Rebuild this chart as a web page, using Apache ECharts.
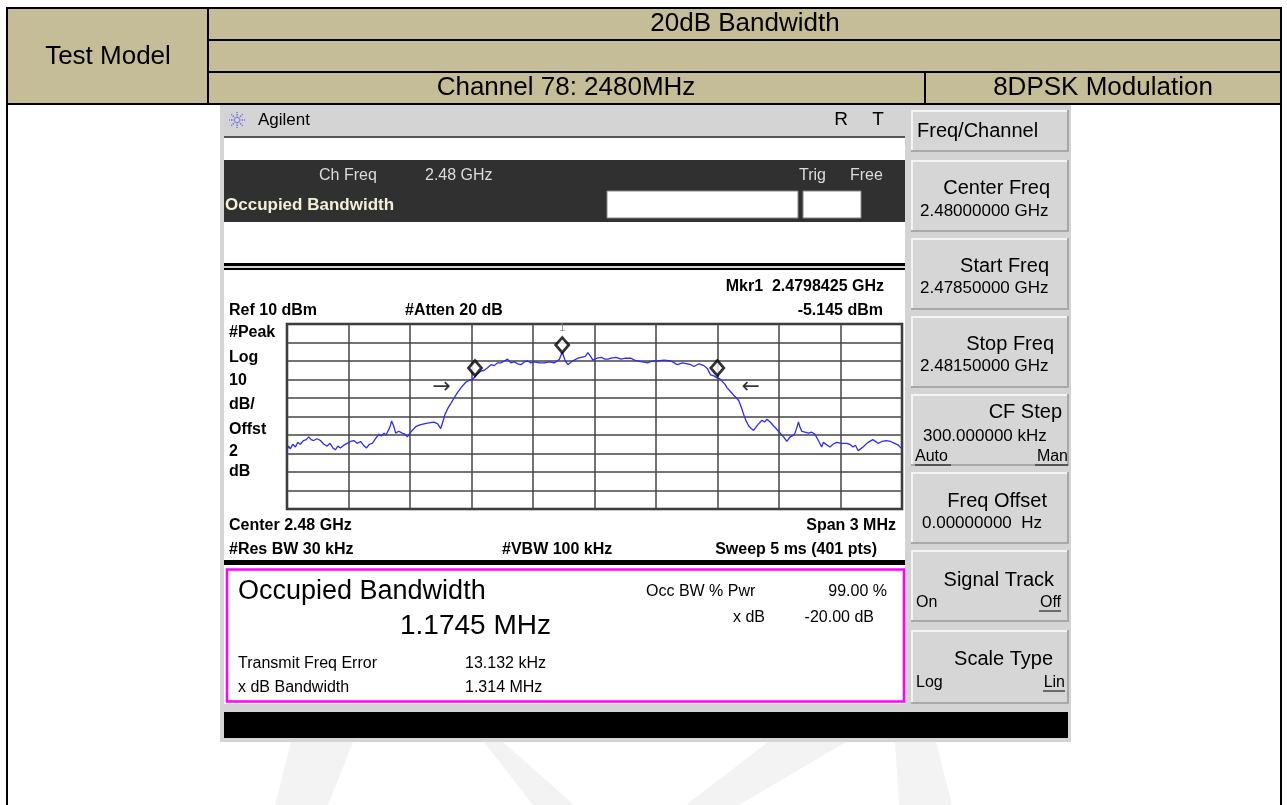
<!DOCTYPE html>
<html>
<head>
<meta charset="utf-8">
<script src="https://cdn.jsdelivr.net/npm/echarts@6/dist/echarts.min.js"></script>
<style>
html,body{margin:0;padding:0;background:#fff;}
#main{width:1287px;height:805px;}
</style>
</head>
<body>
<div id="main"></div>
<script>
// trace: offset from 2.48 GHz (kHz) and level (dBm)
var freqOffsets = [
  -1500,-1492,-1484,-1472,-1459,-1447,-1435,-1420,-1406,-1394,
  -1382,-1370,-1353,-1337,-1320,-1304,-1290,-1276,-1264,-1252,
  -1239,-1223,-1207,-1190,-1174,-1158,-1141,-1127,-1112,-1098,
  -1084,-1068,-1052,-1040,-1027,-1017,-1008,-999,-990,-980,
  -970,-955,-938,-925,-913,-897,-885,-872,-852,-832,
  -808,-783,-765,-750,-740,-730,-715,-701,-685,-668,
  -648,-628,-612,-595,-583,-571,-555,-538,-520,-505,
  -489,-473,-457,-440,-424,-408,-391,-375,-359,-343,
  -326,-310,-293,-270,-245,-220,-196,-183,-171,-157.5,
  -144,-130,-114,-98,-82,-65,-45,-32,-25,-16,
  -8,12,33,50,65,81,105,129,152,178,
  195,210,235,259,283,307,340,372,390,404,
  430,453,470,485,510,534,550,566,582,595,
  610,623,636,647,663,679,693,704,716,728,
  740,752,764,776,796,817,830,841,857,873,
  890,906,922,938,954,967,978,987,995,1003,
  1011,1027,1043,1059,1075,1092,1108,1116,1124,1136,
  1148,1164,1181,1205,1229,1245,1261,1273,1286,1298,
  1310,1334,1358,1383,1403,1423,1444,1464,1482,1500
];
var levels = [
  -58,-56,-57.5,-55,-56.5,-54,-55,-53,-52.5,-51,
  -52.5,-53,-52,-53,-55,-56,-54.5,-57,-58,-56,
  -57,-55.5,-54.5,-53.5,-53,-54.5,-53.5,-55.5,-57,-55,
  -54.5,-52,-49.5,-50.5,-49,-50,-49,-46,-42.5,-45,
  -49,-48,-49,-49.5,-51,-48.5,-47,-45.5,-44.5,-44,
  -43.5,-43,-44,-46.5,-43,-39,-35.5,-33,-30,-27,
  -24,-21.5,-20.5,-20,-18.5,-17,-15.5,-15,-13.5,-12,
  -12.5,-11,-11,-10,-9,-11,-10.5,-11.5,-12,-10.5,
  -10,-11,-10.5,-11,-11,-10.5,-11,-10,-9,-5.145,
  -9.5,-12,-10.5,-9.5,-8.5,-8,-7.5,-5.5,-5.5,-8,
  -9.5,-8.5,-8,-9,-9,-8.5,-8,-9,-8.5,-8.5,
  -9.5,-10,-10.5,-11,-10,-10,-9.5,-10,-11,-12,
  -11,-11.5,-12,-13,-11.5,-12.5,-14,-17.5,-18,-19,
  -19.5,-21,-22.5,-24.5,-26.5,-28.5,-30,-31.5,-35,-39,
  -42.5,-45,-46.5,-47.5,-44.5,-42,-43,-41.5,-43,-45,
  -47,-49,-51,-53.5,-51,-50.5,-49,-46,-43,-46,
  -48,-48.5,-49,-48.5,-49.5,-53,-56.5,-54,-53.5,-55.5,
  -56.5,-55,-54,-54.5,-54.5,-55,-56.5,-55.5,-58.5,-57.5,
  -56.5,-54,-52.5,-54.5,-53.5,-53,-53.5,-54.5,-55.5,-57.5
];
// markers (diamonds) and OBW arrows
var markerFreqs = [-157.5, -583, 599];
var markerLevels = [-5.145, -17.6, -17.6];
var markerNames = ['1', '', ''];
var arrowFreqs = [-745, 762];
var arrowLevels = [-24, -24];
var arrowTexts = ['\u2192', '\u2190'];
// axis: 3 MHz span, 10 dB/div from Ref 10 dBm
var xMin = -1500, xMax = 1500, xStep = 300;
var yMin = -90, yMax = 10, yStep = 10;

var FONT = "'Liberation Sans', Arial, sans-serif";

function R(x, y, w, h, fill, stroke, lw) {
  return {type:'rect', z:1, shape:{x:x, y:y, width:w, height:h},
    style:{fill:fill || 'none', stroke:stroke || null, lineWidth:lw || 0}};
}
function L(x1, y1, x2, y2, color, w, dash) {
  return {type:'line', z:2, shape:{x1:x1, y1:y1, x2:x2, y2:y2},
    style:{stroke:color, lineWidth:w, lineDash:dash || null}};
}
function T(x, y, s, size, opt) {
  opt = opt || {};
  var a = opt.align || 'left';
  return {type:'text', z:3, x:x, y:y, style:{
    text:s, font:(opt.bold ? 'bold ' : '') + size + 'px ' + (opt.family || FONT),
    fill:opt.color || '#000', textAlign:a, align:a,
    textVerticalAlign:'middle', verticalAlign:'middle'}};
}

var g = [];
// watermark
[[[291,742],[353,742],[328,805],[275,805]],
 [[484,742],[503,742],[574,805],[533,805]],
 [[768,742],[846,742],[739,805],[686,805]],
 [[895,742],[936,742],[952,805],[899,805]]].forEach(function (p) {
  g.push({type:'polygon', z:0, shape:{points:p}, style:{fill:'#f3f3f3'}});
});

// table header
g.push(R(7, 8, 1274, 96, '#c4bd98'));
g.push(L(7, 8, 1281, 8, '#000', 2));
g.push(L(7, 7, 7, 805, '#000', 2));
g.push(L(1281, 7, 1281, 805, '#000', 2));
g.push(L(208, 8, 208, 104, '#000', 2));
g.push(L(208, 40, 1281, 40, '#000', 2));
g.push(L(208, 72, 1281, 72, '#000', 2));
g.push(L(7, 104, 1281, 104, '#000', 2));
g.push(L(925, 72, 925, 104, '#000', 2));
g.push(T(745, 24, '20dB Bandwidth', 26, {align:'center'}));
g.push(T(108, 57, 'Test Model', 26, {align:'center'}));
g.push(T(566, 88, 'Channel 78: 2480MHz', 26, {align:'center'}));
g.push(T(1103, 88, '8DPSK Modulation', 26, {align:'center'}));

// instrument frame
g.push(R(220, 105, 851, 637, '#d4d4d4'));
// logo star
for (var k = 0; k < 8; k++) {
  var an = k * Math.PI / 4;
  g.push(L(237 + 2 * Math.cos(an), 120 + 2 * Math.sin(an), 237 + 8 * Math.cos(an), 120 + 8 * Math.sin(an), '#6f6fe0', 1.5, [1.5, 1]));
}
g.push(T(258, 120, 'Agilent', 17));
g.push(T(841, 120, 'R', 19, {align:'center'}));
g.push(T(878, 120, 'T', 19, {align:'center'}));

// display area
g.push(L(224, 137, 905, 137, '#555', 2));
g.push(R(224, 138, 681, 22, '#fff'));
g.push(R(224, 160, 681, 62, '#303030'));
g.push(R(224, 222, 681, 41, '#fff'));
g.push(R(224, 263, 681, 3, '#000'));
g.push(R(224, 268, 681, 2, '#000'));
g.push(R(224, 270, 681, 290, '#fff'));
g.push(R(224, 560, 681, 5, '#000'));
g.push(R(224, 565, 681, 139, '#fff'));
g.push(R(227, 569.5, 677, 132, null, '#ff00ff', 2.5));
g.push(R(224, 712, 844, 26, '#000'));

g.push(T(319, 176, 'Ch Freq', 16, {color:'#dcdcdc'}));
g.push(T(425, 176, '2.48 GHz', 16, {color:'#dcdcdc'}));
g.push(T(799, 176, 'Trig', 16, {color:'#dcdcdc'}));
g.push(T(850, 176, 'Free', 16, {color:'#dcdcdc'}));
g.push(T(225, 205, 'Occupied Bandwidth', 17, {bold:true, color:'#f3efd9'}));
g.push(R(607, 191, 191, 27, '#fff', '#888', 1));
g.push(R(803, 191, 58, 27, '#fff', '#888', 1));

// trace annotations
g.push(T(884, 287, 'Mkr1  2.4798425 GHz', 16, {bold:true, align:'right'}));
g.push(T(229, 311, 'Ref 10 dBm', 16, {bold:true}));
g.push(T(405, 311, '#Atten 20 dB', 16, {bold:true}));
g.push(T(883, 311, '-5.145 dBm', 16, {bold:true, align:'right'}));
[['#Peak',333],['Log',358],['10',381],['dB/',405],['Offst',430],['2',452],['dB',472]].forEach(function (r) {
  g.push(T(229, r[1], r[0], 16, {bold:true}));
});
g.push(T(229, 526, 'Center 2.48 GHz', 16, {bold:true}));
g.push(T(896, 526, 'Span 3 MHz', 16, {bold:true, align:'right'}));
g.push(T(229, 550, '#Res BW 30 kHz', 16, {bold:true}));
g.push(T(502, 550, '#VBW 100 kHz', 16, {bold:true}));
g.push(T(877, 550, 'Sweep 5 ms (401 pts)', 16, {bold:true, align:'right'}));

// results box
g.push(T(238, 592, 'Occupied Bandwidth', 27));
g.push(T(400, 626, '1.1745 MHz', 28));
g.push(T(646, 592, 'Occ BW % Pwr', 16));
g.push(T(887, 592, '99.00 %', 16, {align:'right'}));
g.push(T(733, 618, 'x dB', 16));
g.push(T(874, 618, '-20.00 dB', 16, {align:'right'}));
g.push(T(238, 664, 'Transmit Freq Error', 16));
g.push(T(465, 664, '13.132 kHz', 16));
g.push(T(238, 688, 'x dB Bandwidth', 16));
g.push(T(465, 688, '1.314 MHz', 16));

// softkeys
function button(y, h) {
  g.push(R(911, y, 158, h, '#d6d6d6'));
  g.push(L(911, y + 1, 1069, y + 1, '#f4f4f4', 2));
  g.push(L(912, y, 912, y + h, '#f4f4f4', 2));
  g.push(L(911, y + h - 1, 1069, y + h - 1, '#a8a8a8', 2));
  g.push(L(1068, y, 1068, y + h, '#a8a8a8', 2));
}
function under(x1, x2, y) { g.push(L(x1, y, x2, y, '#000', 1)); }
button(110, 42);
g.push(T(917, 131, 'Freq/Channel', 20));
button(160, 72);
g.push(T(1050, 188, 'Center Freq', 20, {align:'right'}));
g.push(T(920, 211, '2.48000000 GHz', 17));
button(238, 72);
g.push(T(1049, 266, 'Start Freq', 20, {align:'right'}));
g.push(T(920, 288, '2.47850000 GHz', 17));
button(316, 72);
g.push(T(1054, 344, 'Stop Freq', 20, {align:'right'}));
g.push(T(920, 366, '2.48150000 GHz', 17));
button(394, 72);
g.push(T(1062, 412, 'CF Step', 20, {align:'right'}));
g.push(T(923, 436, '300.000000 kHz', 17));
g.push(T(915, 457, 'Auto', 16));
g.push(T(1068, 457, 'Man', 16, {align:'right'}));
under(915, 951, 465); under(1035, 1068, 465);
button(472, 72);
g.push(T(1047, 501, 'Freq Offset', 20, {align:'right'}));
g.push(T(922, 523, '0.00000000  Hz', 17));
button(550, 72);
g.push(T(1054, 580, 'Signal Track', 20, {align:'right'}));
g.push(T(916, 603, 'On', 16));
g.push(T(1061, 603, 'Off', 16, {align:'right'}));
under(1039, 1061, 611);
button(630, 74);
g.push(T(1053, 659, 'Scale Type', 20, {align:'right'}));
g.push(T(916, 683, 'Log', 16));
g.push(T(1065, 683, 'Lin', 16, {align:'right'}));
under(1043, 1065, 691);

var chart = echarts.init(document.getElementById('main'));
chart.setOption({
  animation: false,
  backgroundColor: '#fff',
  graphic: g,
  grid: {left:287, top:324, width:615, height:185, show:true, z:10,
    borderColor:'#2a2a2a', borderWidth:2.5, backgroundColor:'transparent'},
  xAxis: {type:'value', min:xMin, max:xMax, interval:xStep, z:10,
    axisLabel:{show:false}, axisTick:{show:false}, axisLine:{show:false},
    splitLine:{lineStyle:{color:'#444', width:1.5}}},
  yAxis: {type:'value', min:yMin, max:yMax, interval:yStep, z:10,
    axisLabel:{show:false}, axisTick:{show:false}, axisLine:{show:false},
    splitLine:{lineStyle:{color:'#444', width:1.5}}},
  series: [
    {type:'line', z:11, symbol:'none', silent:true,
      lineStyle:{color:'#2d2df0', width:1.3},
      data: freqOffsets.map(function (f, i) { return [f, levels[i]]; })},
    {type:'scatter', z:12, symbol:'diamond', symbolSize:[13, 15], symbolOffset:[0, -7],
      itemStyle:{color:'#fff', borderColor:'#000', borderWidth:2.8},
      label:{show:true, position:'top', distance:3, color:'#777', fontSize:11, fontFamily:FONT,
        formatter:function (p) { return markerNames[p.dataIndex]; }},
      data: markerFreqs.map(function (f, i) { return [f, markerLevels[i]]; })},
    {type:'scatter', z:12, symbol:'circle', symbolSize:0,
      label:{show:true, position:'inside', color:'#000', fontSize:22, fontFamily:'DejaVu Sans',
        formatter:function (p) { return arrowTexts[p.dataIndex]; }},
      data: arrowFreqs.map(function (f, i) { return [f, arrowLevels[i]]; })}
  ]
});
</script>
</body>
</html>
